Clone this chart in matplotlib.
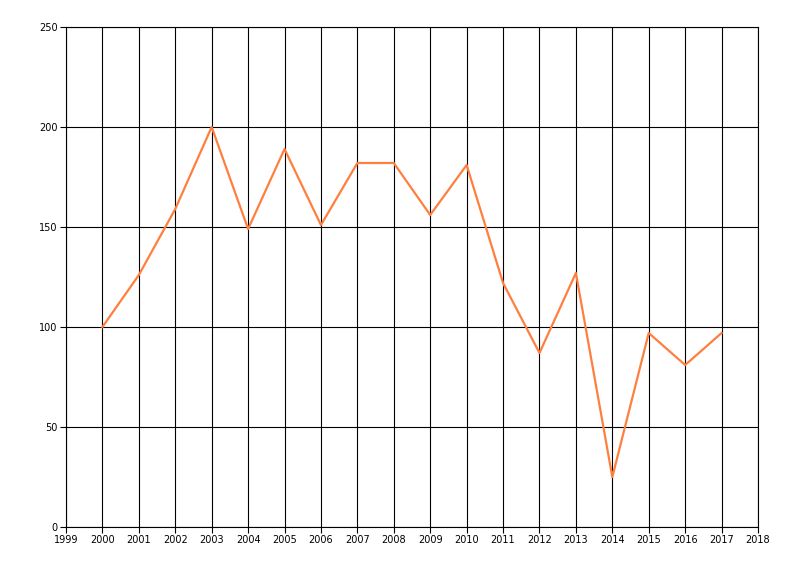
import matplotlib.pyplot as plt

# Data
years = [2000, 2001, 2002, 2003, 2004, 2005, 2006, 2007, 2008,
         2009, 2010, 2011, 2012, 2013, 2014, 2015, 2016, 2017]
values = [100, 126, 159, 200, 149, 189, 151, 182, 182,
          156, 181, 122, 87, 127, 25, 97, 81, 97]

x_ticks = list(range(1999, 2019))
y_ticks = [0, 50, 100, 150, 200, 250]

plt.rcParams['font.family'] = ['DejaVu Sans']

fig = plt.figure(figsize=(8, 5.76), dpi=100)
ax = fig.add_axes([66 / 800, 1 - 527 / 576, (758 - 66) / 800, (527 - 27) / 576])

ax.plot(years, values, color='#ff7f3f', linewidth=1.6, zorder=3)

ax.set_xlim(1999, 2018)
ax.set_ylim(0, 250)
ax.set_xticks(x_ticks)
ax.set_yticks(y_ticks)
ax.tick_params(labelsize=7, length=4, width=0.8, color='black', pad=2)
ax.grid(True, color='black', linewidth=0.8)
ax.set_axisbelow(True)
for side in ['left', 'bottom', 'top', 'right']:
    ax.spines[side].set_color('black')
    ax.spines[side].set_linewidth(0.8)

fig.savefig('out.png', dpi=100)
